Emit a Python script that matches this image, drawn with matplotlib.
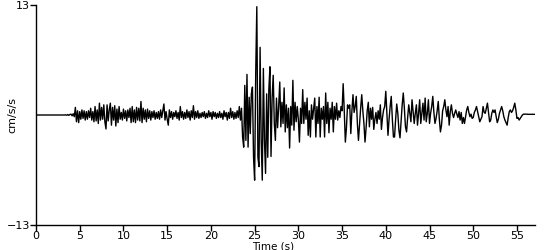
import numpy as np
import matplotlib
matplotlib.use("Agg")
import matplotlib.pyplot as plt

# acceleration record, cm/s/s, sampled every 0.125 s (one row = one second)
dt = 0.125
accel_quiet = [
    0, 0, 0, 0, 0, 0, 0, 0,
    0, 0, 0, 0, 0, 0, 0, 0,
    0, 0, 0, 0, 0, 0, 0, 0,
    0, 0, 0, 0.02, -0.03, 0.05, -0.04, 0.06,
]
accel_noise = [
    0.1, -0.1, 0.15, -0.2, 0.9, -0.8, 0.5, -0.9,
    0.4, -0.5, 0.6, -0.4, 0.5, -0.6, 0.4, -0.5,
    0.5, -0.3, 0.8, -0.6, 0.4, -0.8, 1.0, -0.7,
    0.6, -1.0, 1.4, -0.6, 0.9, -0.5, 1.2, -0.8,
    -1.65, 1.2, -0.7, 0.6, 1.4, -1.2, 0.9, -0.6,
    1.1, -1.3, 0.7, -0.9, 1.0, -0.5, 0.3, -0.6,
    0.7, -0.4, 0.5, -0.7, 0.6, -0.3, 0.8, -0.9,
    1.0, -0.8, 0.6, -0.9, 0.9, -0.6, 0.8, -0.7,
    1.6, -0.9, 0.8, -0.5, 0.6, -0.8, 0.7, -0.4,
    0.5, -0.6, 0.4, -0.3, 0.5, -0.5, 0.3, -0.4,
    0.4, -0.5, 0.6, -0.3, 0.5, 1.3, -0.6, 0.4,
    -0.5, -1.2, 0.6, -0.3, 0.4, -0.5, 0.3, -0.2,
    0.5, -0.4, 0.3, -0.6, 1.0, -0.3, 0.4, -0.5,
    0.3, -0.4, 0.6, -0.3, 0.4, -0.6, 0.5, -0.3,
    1.1, -0.5, 0.4, -0.3, 0.5, -0.4, 0.2, -0.3,
    0.3, -0.2, 0.4, -0.4, 0.2, -0.3, 0.5, -0.2,
    0.3, -0.5, 0.4, -0.2, 0.3, -0.4, 0.2, -0.3,
    0.4, -0.3, 0.2, -0.5, 0.5, -0.2, 0.3, -0.6,
    0.3, -0.4, 0.8, -0.3, 0.4, -0.5, 0.3, -0.4,
]
accel_strong = [
    0.5, -0.3, 1.0, -0.6, 0.8, -2.6, -3.8, 3.5,
    -3.0, 4.8, -3.8, 2.1, -2.2, 2.5, 3.3, -5.0,
    -7.7, 5.0, 12.8, -5.0, -6.1, 8.0, -3.0, -7.7,
    5.5, -3.0, -6.9, 2.5, -5.0, 3.0, 5.7, -4.9,
    2.0, 4.7, -1.0, -3.0, 2.0, -1.5, 1.0, 3.9,
    -1.4, 1.5, -1.0, 3.2, -2.0, 1.2, -1.5, 0.8,
    -3.9, 1.0, -1.2, 4.1, -1.8, 1.5, -0.8, 1.0,
    -0.5, -3.2, 0.8, -1.0, 3.0, -1.0, 1.5, -0.5,
    2.0, -2.4, 0.5, -2.6, 1.2, -0.5, 0.8, 2.0,
    -2.6, 1.0, -1.0, 2.1, -2.6, 0.8, -0.5, 1.0,
    -2.6, 2.6, -1.0, 1.5, -2.1, 0.8, -0.5, 1.5,
    -2.0, 1.0, -0.5, 1.4, -0.6, 0.5, -0.3, 1.0,
]
accel_coda = [
    0.5, 3.7, 0.5, -3.2, -1.5, 1.2, 0.8, 1.2,
    -2.2, 0.5, 2.4, 0.3, 1.0, 2.2, -1.0, -3.0,
    -1.0, 0.8, 2.4, 0.5, -1.0, -3.2, -1.5, 0.5,
    1.5, -1.4, 0.8, -0.5, 0.9, -1.7, -0.5, 0.3,
    -1.0, 0.5, -0.5, 1.2, -1.7, -0.3, 0.6, 1.0,
    2.8, 0.3, -2.4, -0.5, 1.0, 2.2, -0.5, -2.6,
    -2.6, -0.5, 1.3, 0.2, -1.8, -2.7, -0.8, 1.2,
    2.6, 0.8, -1.4, -2.0, -0.3, 1.2, 0.2, -0.8,
    1.8, 0.4, -1.0, 0.2, 1.2, -1.2, 0.2, 1.8,
    -1.0, 0.2, 1.4, -0.6, 2.0, -0.8, 0.2, 1.8,
    -1.0, 0.2, 1.0, 2.2, 0.3, -1.0, -0.4, 0.5,
    1.6, -0.5, -2.0, -1.2, 0.5, 1.0, 1.8, 0.6,
    -0.2, 1.0, -1.2, 0.4, 1.2, 0.2, -0.3, 0.2,
    0.6, 0.1, -0.3, 0.4, -0.6, 0.3, -1.0, -0.3,
    -1.0, -0.2, 0.6, 1.0, 0.3, -0.2, 0.1, -0.4,
    -0.3, 0.3, 0.6, 1.0, 0.4, -0.2, -0.8, -0.5,
    -0.2, 1.0, 0.3, 0.2, 0.8, 1.4, 0.3, -0.8,
    -0.6, 0.2, 0.6, 0.3, 0.6, -0.2, -0.9, -0.5,
    0.2, 0.6, 1.0, 0.5, -0.2, -0.6, -0.9, -1.2,
    -0.3, 0.4, 0.6, 0.3, 0.5, 0.9, 1.4, 0.6,
    -0.4, -0.3, -0.6, -0.4, -0.2, 0.0, 0.1, 0.1,
    0.1, 0.1, 0.08, 0.08, 0.08, 0.08, 0.08, 0.08,
    0.08,
]

accel = np.array(accel_quiet + accel_noise + accel_strong + accel_coda)
time = np.arange(len(accel)) * dt

x_ticks = [0, 5, 10, 15, 20, 25, 30, 35, 40, 45, 50, 55]
y_ticks = [-13, 13]

fig = plt.figure(figsize=(5.5, 2.5), dpi=100)
ax = fig.add_axes([0.0655, 0.1, 0.907, 0.88])
ax.plot(time, accel, color="black", linewidth=1.0)

ax.set_xlim(0, 57.05)
ax.set_ylim(-13, 13)
ax.set_xticks(x_ticks)
ax.set_yticks(y_ticks)
ax.tick_params(axis="both", direction="out", length=4, width=1,
               labelsize=8, pad=0.5, colors="black")
for side in ("top", "right"):
    ax.spines[side].set_visible(False)
for side in ("left", "bottom"):
    ax.spines[side].set_linewidth(1)
    ax.spines[side].set_color("black")

ax.set_xlabel("Time (s)", fontsize=7.5, va="top")
ax.xaxis.set_label_coords(0.475, -0.074)
ax.set_ylabel("cm/s/s", fontsize=8, va="center")
ax.yaxis.set_label_coords(-0.048, 0.5)

fig.savefig("out.png", dpi=100)
